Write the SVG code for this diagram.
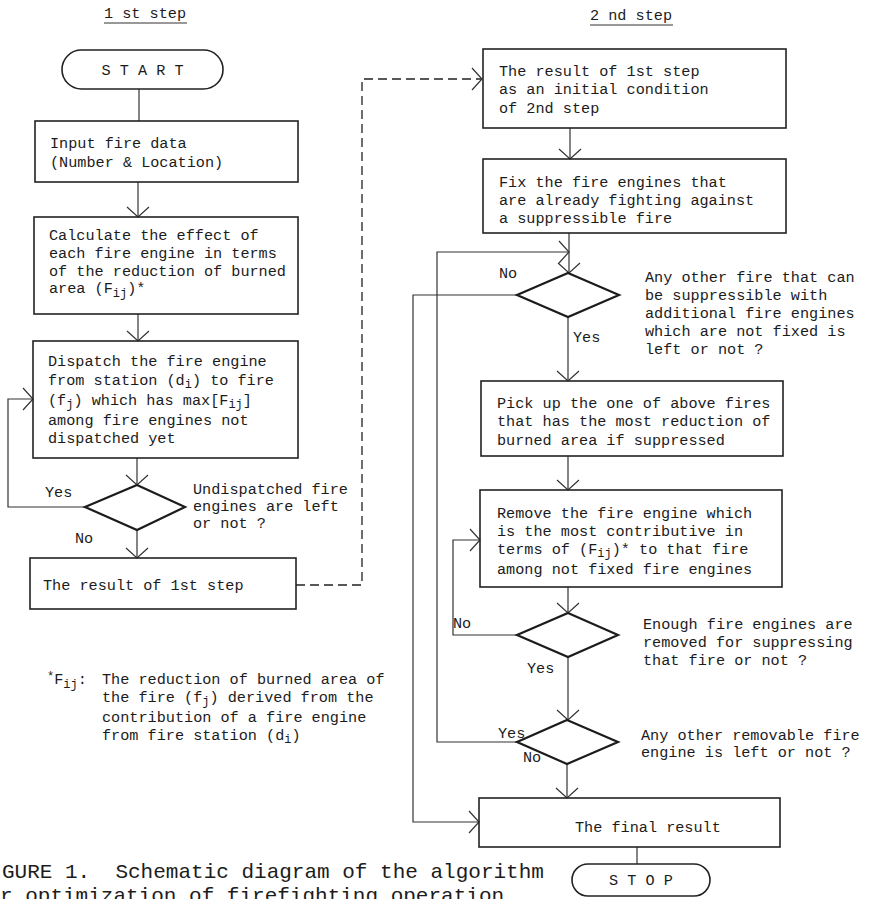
<svg xmlns="http://www.w3.org/2000/svg" width="872" height="899" viewBox="0 0 872 899">
<style>
.t{font-family:"Liberation Mono","DejaVu Sans Mono",monospace;font-size:15.2px;fill:#1c1c1c}
.s{font-size:12px}
.cap{font-family:"Liberation Mono","DejaVu Sans Mono",monospace;font-size:21px;fill:#1c1c1c}
.box{fill:none;stroke:#222;stroke-width:1.6}
.dia{fill:none;stroke:#1c1c1c;stroke-width:2.2;stroke-linejoin:miter}
.ln{fill:none;stroke:#333;stroke-width:1.2}
.dash{stroke:#222;stroke-width:1.3;stroke-dasharray:9 5}
</style>
<defs>
<marker id="arr" markerWidth="13" markerHeight="26" refX="11" refY="13" orient="auto" markerUnits="userSpaceOnUse">
<path d="M1,2 L11,13 L1,24" fill="none" stroke="#333" stroke-width="1.2"/>
</marker>
</defs>
<rect width="872" height="899" fill="#fff"/>

<g id="headers">
<text class="t" x="104" y="18">1 st step</text>
<line class="ln" x1="104" y1="23" x2="187" y2="23"/>
<text class="t" x="590" y="20">2 nd step</text>
<line class="ln" x1="590" y1="25" x2="673" y2="25"/>
</g>

<g id="connectors">
<line class="ln" x1="139" y1="89" x2="139" y2="121"/>
<line class="ln" x1="138" y1="182" x2="138" y2="217" marker-end="url(#arr)"/>
<line class="ln" x1="138" y1="314" x2="138" y2="341" marker-end="url(#arr)"/>
<line class="ln" x1="137" y1="458" x2="137" y2="485" marker-end="url(#arr)"/>
<polyline class="ln" points="85,507 8,507 8,399 33,399" marker-end="url(#arr)"/>
<line class="ln" x1="137" y1="530" x2="137" y2="558" marker-end="url(#arr)"/>
<polyline class="ln dash" points="296,585 362,585 362,79 482,79" marker-end="url(#arr)"/>
<line class="ln" x1="570" y1="128" x2="570" y2="159" marker-end="url(#arr)"/>
<line class="ln" x1="569" y1="233" x2="569" y2="273" marker-end="url(#arr)"/>
<polyline class="ln" points="517,742 437,742 437,252 569,252" marker-end="url(#arr)"/>
<polyline class="ln" points="517,295 413,295 413,822 479,822" marker-end="url(#arr)"/>
<line class="ln" x1="568" y1="317" x2="568" y2="381" marker-end="url(#arr)"/>
<line class="ln" x1="568" y1="456" x2="568" y2="490" marker-end="url(#arr)"/>
<line class="ln" x1="568" y1="587" x2="568" y2="613" marker-end="url(#arr)"/>
<polyline class="ln" points="517,635 453,635 453,540 480,540" marker-end="url(#arr)"/>
<line class="ln" x1="568" y1="657" x2="568" y2="720" marker-end="url(#arr)"/>
<line class="ln" x1="567" y1="764" x2="567" y2="798" marker-end="url(#arr)"/>
<line class="ln" x1="637" y1="847" x2="637" y2="864"/>
<g id="connector-labels">
<text class="t" x="45" y="497">Yes</text>
<text class="t" x="75" y="543">No</text>
<text class="t" x="499" y="278">No</text>
<text class="t" x="573" y="342">Yes</text>
<text class="t" x="453" y="628">No</text>
<text class="t" x="527" y="673">Yes</text>
<text class="t" x="498" y="738">Yes</text>
<text class="t" x="523" y="762">No</text>
</g>
</g>

<g id="n-start">
<rect class="box" x="62" y="50" width="161" height="39" rx="19.5"/>
<text class="t" x="142.5" y="75" text-anchor="middle">S T A R T</text>
</g>

<g id="n-input">
<rect class="box" x="35" y="121" width="263" height="61"/>
<text class="t" x="50" y="148">Input fire data</text>
<text class="t" x="50" y="167">(Number &amp; Location)</text>
</g>

<g id="n-calc">
<rect class="box" x="34" y="217" width="264" height="97"/>
<text class="t" x="49" y="240">Calculate the effect of</text>
<text class="t" x="49" y="258">each fire engine in terms</text>
<text class="t" x="49" y="276">of the reduction of burned</text>
<text class="t" x="49" y="293">area (F<tspan class="s" dy="4">ij</tspan><tspan dy="-4">)*</tspan></text>
</g>

<g id="n-dispatch">
<rect class="box" x="33" y="341" width="265" height="117"/>
<text class="t" x="48" y="366">Dispatch the fire engine</text>
<text class="t" x="48" y="385">from station (d<tspan class="s" dy="3">i</tspan><tspan dy="-3">) to fire</tspan></text>
<text class="t" x="48" y="405">(f<tspan class="s" dy="3">j</tspan><tspan dy="-3">) which has max[F</tspan><tspan class="s" dy="3">ij</tspan><tspan dy="-3">]</tspan></text>
<text class="t" x="48" y="425">among fire engines not</text>
<text class="t" x="48" y="443">dispatched yet</text>
</g>

<g id="n-dec1">
<polygon class="dia" points="137,485 185,507 137,530 85,507"/>
<text class="t" x="193" y="494">Undispatched fire</text>
<text class="t" x="193" y="511">engines are left</text>
<text class="t" x="193" y="528">or not ?</text>
</g>

<g id="n-result1">
<rect class="box" x="30" y="558" width="266" height="51"/>
<text class="t" x="43" y="590">The result of 1st step</text>
</g>

<g id="n-footnote">
<text class="t" x="47" y="684"><tspan class="s" dy="-4">*</tspan><tspan dy="4">F</tspan><tspan class="s" dy="4">ij</tspan><tspan dy="-4">:</tspan></text>
<text class="t" x="102" y="684">The reduction of burned area of</text>
<text class="t" x="102" y="702">the fire (f<tspan class="s" dy="3">j</tspan><tspan dy="-3">) derived from the</tspan></text>
<text class="t" x="102" y="722">contribution of a fire engine</text>
<text class="t" x="102" y="740">from fire station (d<tspan class="s" dy="3">i</tspan><tspan dy="-3">)</tspan></text>
</g>

<g id="caption">
<text class="cap" x="2" y="878" xml:space="preserve">GURE 1.  Schematic diagram of the algorithm</text>
<text class="cap" x="0" y="902">r optimization of firefighting operation</text>
</g>

<g id="n-b1">
<rect class="box" x="483" y="49" width="303" height="79"/>
<text class="t" x="499" y="76">The result of 1st step</text>
<text class="t" x="499" y="94">as an initial condition</text>
<text class="t" x="499" y="113">of 2nd step</text>
</g>

<g id="n-b2">
<rect class="box" x="483" y="159" width="303" height="74"/>
<text class="t" x="499" y="187">Fix the fire engines that</text>
<text class="t" x="499" y="205">are already fighting against</text>
<text class="t" x="499" y="223">a suppressible fire</text>
</g>

<g id="n-dec2">
<polygon class="dia" points="568,273 619,295 568,317 517,295"/>
<text class="t" x="645" y="282">Any other fire that can</text>
<text class="t" x="645" y="300">be suppressible with</text>
<text class="t" x="645" y="318">additional fire engines</text>
<text class="t" x="645" y="336">which are not fixed is</text>
<text class="t" x="645" y="354">left or not ?</text>
</g>

<g id="n-pick">
<rect class="box" x="481" y="381" width="302" height="75"/>
<text class="t" x="497" y="408">Pick up the one of above fires</text>
<text class="t" x="497" y="426">that has the most reduction of</text>
<text class="t" x="497" y="445">burned area if suppressed</text>
</g>

<g id="n-remove">
<rect class="box" x="480" y="490" width="302" height="97"/>
<text class="t" x="497" y="518">Remove the fire engine which</text>
<text class="t" x="497" y="536">is the most contributive in</text>
<text class="t" x="497" y="554">terms of (F<tspan class="s" dy="3">ij</tspan><tspan dy="-3">)* to that fire</tspan></text>
<text class="t" x="497" y="574">among not fixed fire engines</text>
</g>

<g id="n-dec3">
<polygon class="dia" points="568,613 618,635 568,657 517,635"/>
<text class="t" x="643" y="629">Enough fire engines are</text>
<text class="t" x="643" y="647">removed for suppressing</text>
<text class="t" x="643" y="665">that fire or not ?</text>
</g>

<g id="n-dec4">
<polygon class="dia" points="567,720 618,742 567,764 517,742"/>
<text class="t" x="641" y="740">Any other removable fire</text>
<text class="t" x="641" y="757">engine is left or not ?</text>
</g>

<g id="n-final">
<rect class="box" x="479" y="798" width="301" height="49"/>
<text class="t" x="575" y="832">The final result</text>
</g>

<g id="n-stop">
<rect class="box" x="572" y="864" width="138" height="32" rx="16"/>
<text class="t" x="641" y="885" text-anchor="middle">S T O P</text>
</g>
</svg>
